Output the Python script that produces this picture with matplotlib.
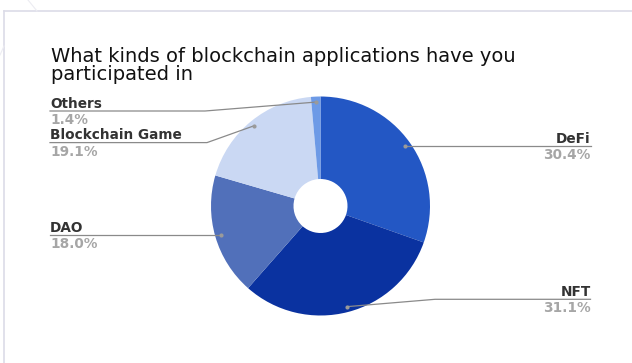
import matplotlib.pyplot as plt
from matplotlib.lines import Line2D
import numpy as np

# survey answers, clockwise from 12 o'clock
apps = ["DeFi", "NFT", "DAO", "Blockchain Game", "Others"]
shares = [30.4, 31.1, 18.0, 19.1, 1.4]
colors = ["#2357c4", "#0a32a0", "#5170ba", "#cad8f3", "#6d9ae6"]

W, H = 632, 363

# label placement in pixel space (x, name baseline, side, elbow x)
label_pos = {
    "DeFi": (590.5, 142.7, "right", None),
    "NFT": (590.5, 296.0, "right", 435),
    "DAO": (50, 231.7, "left", None),
    "Blockchain Game": (50, 139.3, "left", 207),
    "Others": (50, 107.7, "left", 205),
}

fig = plt.figure(figsize=(W / 100, H / 100), dpi=100)
ax = fig.add_axes([0, 0, 1, 1])

cx, cy = 320.5, H - 206
R, hole = 109.5, 27

wedges, _ = ax.pie(shares, colors=colors, startangle=90, counterclock=False,
                   center=(cx, cy), radius=R,
                   wedgeprops=dict(width=R - hole, linewidth=0))

ax.set_xlim(0, W)
ax.set_ylim(0, H)
ax.set_aspect("equal")
ax.axis("off")

# card border
frame = "#dcdce8"
ax.add_line(Line2D([4, W], [H - 10.7, H - 10.7], color=frame, lw=1.2))
ax.add_line(Line2D([4, 4], [0, H - 10.7], color=frame, lw=1.2))
ax.add_line(Line2D([28, 37], [H, H - 11], color="#ececf2", lw=0.8))
ax.add_line(Line2D([0, 4], [H - 55, H - 46], color="#ececf2", lw=0.8))

ax.text(51, H - 62.3, "What kinds of blockchain applications have you",
        fontsize=14, family="DejaVu Sans", color="#111111", va="baseline")
ax.text(51, H - 80.5, "participated in",
        fontsize=14, family="DejaVu Sans", color="#111111", va="baseline")

lead = "#8a8a8a"
for w, name, val in zip(wedges, apps, shares):
    mid = np.deg2rad((w.theta1 + w.theta2) / 2)
    dx = cx + 0.95 * R * np.cos(mid)
    dy = cy + 0.95 * R * np.sin(mid)
    lx, base, side, elbow = label_pos[name]
    uy = H - base - 3.3
    ha = "left" if side == "left" else "right"
    ax.text(lx, H - base, name, fontsize=9.8, weight="bold", color="#333333",
            ha=ha, va="baseline", family="DejaVu Sans")
    ax.text(lx, H - base - 16.2, f"{val:.1f}%", fontsize=9.8, weight="bold",
            color="#a6a6a6", ha=ha, va="baseline", family="DejaVu Sans")
    if elbow is None:
        xs, ys = [lx, dx], [uy, uy]
    else:
        xs, ys = [lx, elbow, dx], [uy, uy, dy]
    ax.add_line(Line2D(xs, ys, color=lead, lw=0.9))
    ax.plot(dx, dy, "o", ms=3, color="#9a9a9a", mec="none")

fig.savefig("out.png", dpi=100)
